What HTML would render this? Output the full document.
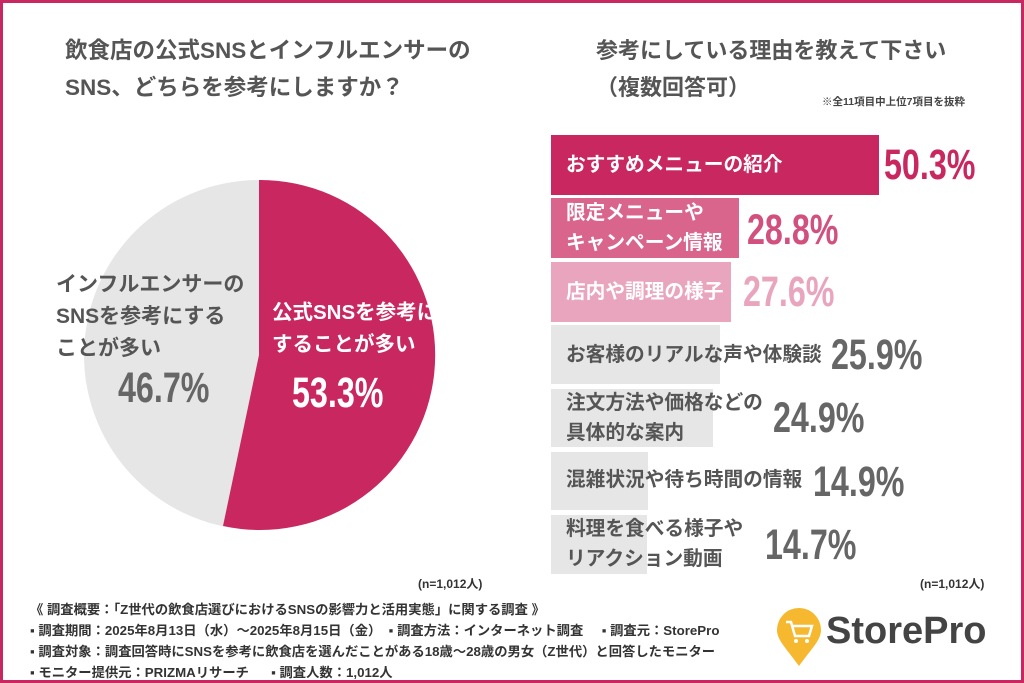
<!DOCTYPE html>
<html><head><meta charset="utf-8"><style>
body{margin:0;width:1024px;height:683px;overflow:hidden;background:#fff;font-family:"Liberation Sans","Noto Sans CJK JP",sans-serif;}
.frame{position:absolute;left:0;top:0;width:1018px;height:677px;border:3px solid #c8285f;}
.t{position:absolute;font-weight:bold;color:#555;white-space:nowrap;}
.bar{position:absolute;left:551px;}
.bl{position:absolute;left:566px;font-weight:bold;font-size:19.7px;line-height:30px;color:#555;white-space:nowrap;}
.pc{position:absolute;font-weight:bold;font-size:43px;color:#666;transform:scaleX(0.75);transform-origin:left center;white-space:nowrap;line-height:44px;}
.ft{position:absolute;left:30px;font-size:13.3px;color:#333;white-space:nowrap;font-weight:bold;}
</style></head><body>
<div class="frame"></div>
<div class="t" style="left:65px;top:32px;font-size:22.5px;line-height:37px;color:#555">飲食店の公式SNSとインフルエンサーの<br>SNS、どちらを参考にしますか？</div>
<div class="t" style="left:596px;top:32px;font-size:22px;line-height:37px;color:#555">参考にしている理由を教えて下さい<br>（複数回答可）</div>
<div class="t" style="left:822px;top:94px;font-size:10.5px;color:#444">※全11項目中上位7項目を抜粋</div>
<svg style="position:absolute;left:0;top:0" width="1024" height="683">
<circle cx="259" cy="355" r="175" fill="#e6e6e6"/>
<path d="M259 355 L259 180 A175 175 0 1 1 223 526 Z" fill="#c8285f"/>
</svg>
<div class="t" style="left:56px;top:269px;font-size:21px;line-height:32px;color:#555">インフルエンサーの<br>SNSを参考にする<br>ことが多い</div>
<div class="t" style="left:118px;top:364px;font-size:43px;color:#666;transform:scaleX(0.75);transform-origin:left">46.7%</div>
<div class="t" style="left:272px;top:297px;font-size:20.5px;line-height:32px;color:#fff">公式SNSを参考に<br>することが多い</div>
<div class="t" style="left:292px;top:369px;font-size:43px;color:#fff;transform:scaleX(0.75);transform-origin:left">53.3%</div>
<div class="t" style="left:418px;top:575px;font-size:12px;color:#333">(n=1,012人)</div>
<div class="t" style="left:920px;top:575px;font-size:12px;color:#333">(n=1,012人)</div>

<div class="bar" style="top:135px;width:328px;height:60px;background:#c8285f"></div>
<div class="bl" style="top:150px;color:#fff">おすすめメニューの紹介</div>
<div class="pc" style="left:884px;top:143px;color:#c8285f">50.3%</div>
<div class="bar" style="top:198px;width:188px;height:60px;background:#d9658c"></div>
<div class="bl" style="top:198px;color:#fff">限定メニューや<br>キャンペーン情報</div>
<div class="pc" style="left:747px;top:208px;color:#d2507e">28.8%</div>
<div class="bar" style="top:262px;width:180px;height:60px;background:#e9a5bd"></div>
<div class="bl" style="top:277px;color:#fff">店内や調理の様子</div>
<div class="pc" style="left:743px;top:270px;color:#e9a5bd">27.6%</div>
<div class="bar" style="top:325px;width:169px;height:59px;background:#e6e6e6"></div>
<div class="bl" style="top:340px">お客様のリアルな声や体験談</div>
<div class="pc" style="left:831px;top:333px">25.9%</div>
<div class="bar" style="top:389px;width:162px;height:58px;background:#e6e6e6"></div>
<div class="bl" style="top:388px">注文方法や価格などの<br>具体的な案内</div>
<div class="pc" style="left:773px;top:396px">24.9%</div>
<div class="bar" style="top:452px;width:97px;height:58px;background:#e6e6e6"></div>
<div class="bl" style="top:465px">混雑状況や待ち時間の情報</div>
<div class="pc" style="left:813px;top:460px">14.9%</div>
<div class="bar" style="top:515px;width:96px;height:59px;background:#e6e6e6"></div>
<div class="bl" style="top:514px">料理を食べる様子や<br>リアクション動画</div>
<div class="pc" style="left:765px;top:523px">14.7%</div>

<div class="ft" style="top:599px">《 調査概要：「Z世代の飲食店選びにおけるSNSの影響力と活用実態」に関する調査 》</div>
<div class="ft" style="top:620px">▪ 調査期間：2025年8月13日（水）〜2025年8月15日（金） &nbsp;▪ 調査方法：インターネット調査 &nbsp;&nbsp;&nbsp;&nbsp;▪ 調査元：StorePro</div>
<div class="ft" style="top:641px">▪ 調査対象：調査回答時にSNSを参考に飲食店を選んだことがある18歳〜28歳の男女（Z世代）と回答したモニター</div>
<div class="ft" style="top:662px">▪ モニター提供元：PRIZMAリサーチ &nbsp;&nbsp;&nbsp;&nbsp;&nbsp;▪ 調査人数：1,012人</div>
<svg style="position:absolute;left:774px;top:608px" width="50" height="60">
<path d="M25 58 C12 40 3 32 3 22 A22 22 0 0 1 47 22 C47 32 38 40 25 58Z" fill="#f5b82e"/>
<path d="M12 14 h5 l4 14 h14 l3 -10 h-19" fill="none" stroke="#fff" stroke-width="2.5"/>
<circle cx="22" cy="33" r="2" fill="#fff"/><circle cx="33" cy="33" r="2" fill="#fff"/>
</svg>
<div class="t" style="left:826px;top:610px;font-size:38px;color:#444">StorePro</div>
</body></html>
